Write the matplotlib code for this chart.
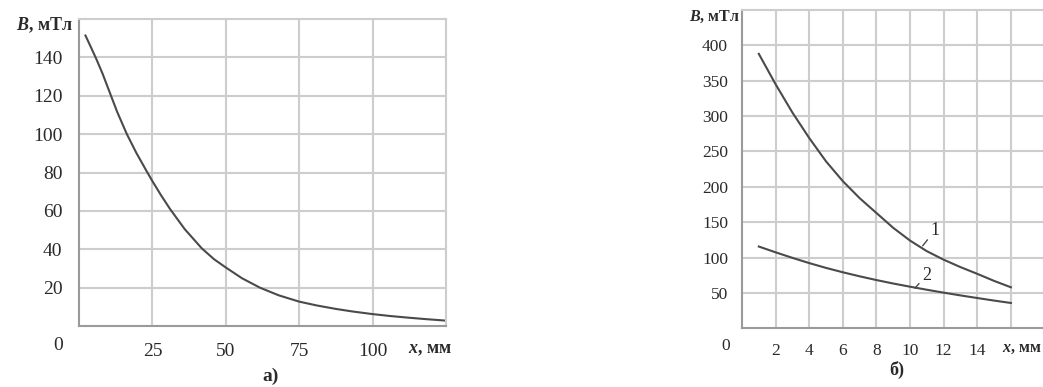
import matplotlib
matplotlib.use("Agg")
import matplotlib.pyplot as plt

plt.rcParams['font.family'] = ['Liberation Serif', 'DejaVu Serif']
plt.rcParams['mathtext.fontset'] = 'custom'
plt.rcParams['mathtext.bfit'] = 'Liberation Serif:italic:bold'
plt.rcParams['mathtext.it'] = 'Liberation Serif:italic'
plt.rcParams['mathtext.rm'] = 'Liberation Serif'

# ---- data: panel а) ----
xa = [2.2, 4, 6, 8, 10.6, 13, 16.3, 19.5, 23.1, 25, 28, 31, 36, 41.8, 46, 50,
      55.5, 61.6, 68, 75, 81, 87.5, 93, 100, 106, 112.5, 118, 125]
ya = [151.4, 145.5, 138.8, 131.6, 121.2, 111.6, 100, 90.3, 80.5, 75.5, 68, 61, 50.5, 40.5, 34.8, 30.5,
      24.9, 20, 16, 12.7, 10.7, 8.9, 7.6, 6.2, 5.2, 4.3, 3.6, 2.8]
xa_ticks = [25, 50, 75, 100]
ya_ticks = [20, 40, 60, 80, 100, 120, 140]

# ---- data: panel б) ----
x1 = [1, 2, 3, 4, 5, 6, 7, 8, 9, 10, 11, 12, 13, 14, 15, 16]
y1 = [388, 345, 305, 269, 236, 208, 184, 163, 142, 124, 109, 97, 86.5, 77, 67, 58]
x2 = [1, 2, 3, 4, 5, 6, 7, 8, 9, 10, 11, 12, 13, 14, 15, 16]
y2 = [115.6, 107.4, 99.6, 92.2, 85.4, 79.2, 73.5, 68.2, 63.3, 58.8, 54.5, 50.4, 46.5, 42.8, 39.2, 35.8]
xb_ticks = [2, 4, 6, 8, 10, 12, 14, 16]
xb_labels = ['2', '4', '6', '8', '10', '12', '14', '']
yb_ticks = [50, 100, 150, 200, 250, 300, 350, 400]

W, H = 1043, 387
fig = plt.figure(figsize=(W / 100, H / 100), dpi=100)

grid_c = '#cdcdcd'
spine_c = '#9a9a9a'
line_c = '#4a4a4a'
text_c = '#2a2a2a'


def style(ax, fs, xpad, ypad):
    ax.grid(True, color=grid_c, linewidth=1.5)
    ax.set_axisbelow(True)
    for s in ['top', 'right']:
        ax.spines[s].set_color(grid_c)
        ax.spines[s].set_linewidth(1.5)
    for s in ['left', 'bottom']:
        ax.spines[s].set_color(spine_c)
        ax.spines[s].set_linewidth(1.5)
    ax.tick_params(axis='both', length=0, labelsize=fs, labelcolor=text_c)
    ax.tick_params(axis='x', pad=xpad)
    ax.tick_params(axis='y', pad=ypad)


# Panel а)
ax1 = fig.add_axes([79 / W, 1 - 326 / H, (446 - 79) / W, (326 - 19) / H])
ax1.plot(xa, ya, color=line_c, linewidth=1.5, solid_joinstyle='round')
ax1.set_xlim(0, 125)
ax1.set_ylim(0, 160)
ax1.set_xticks(xa_ticks)
ax1.set_yticks(ya_ticks)
style(ax1, 14, 12, 12)

# Panel б)
ax2 = fig.add_axes([742 / W, 1 - 328.3 / H, (1044.5 - 742) / W, (328.3 - 10) / H])
ax2.plot(x1, y1, color=line_c, linewidth=1.5, solid_joinstyle='round')
ax2.plot(x2, y2, color=line_c, linewidth=1.5, solid_joinstyle='round')
ax2.set_xlim(0, 18)
ax2.set_ylim(0, 450)
ax2.set_xticks(xb_ticks)
ax2.set_xticklabels(xb_labels)
ax2.set_yticks(yb_ticks)
style(ax2, 12.5, 10.5, 10)

ax2.annotate('1', xy=(10.75, 116.6), xytext=(11.2, 126), fontsize=13, color=text_c,
             ha='left', va='bottom',
             arrowprops=dict(arrowstyle='-', color=line_c, linewidth=1, shrinkA=0, shrinkB=0))
ax2.annotate('2', xy=(10.29, 56.7), xytext=(10.7, 63), fontsize=13, color=text_c,
             ha='left', va='bottom',
             arrowprops=dict(arrowstyle='-', color=line_c, linewidth=1, shrinkA=0, shrinkB=0))

# Axis titles and extra labels
fig.text(73 / W, 1 - 25 / H, r'$\mathbfit{B}$, мТл', ha='right', va='center',
         fontsize=13, fontweight='bold', color=text_c)
fig.text(739.5 / W, 1 - 17 / H, r'$\mathbfit{B}$, мТл', ha='right', va='center',
         fontsize=11.5, fontweight='bold', color=text_c)
fig.text(408 / W, 1 - 350 / H, r'$\mathbfit{x}$, мм', ha='left', va='center',
         fontsize=13, fontweight='bold', color=text_c)
fig.text(1002 / W, 1 - 348.5 / H, r'$\mathbfit{x}$, мм', ha='left', va='center',
         fontsize=11.5, fontweight='bold', color=text_c)
fig.text(58 / W, 1 - 345 / H, '0', ha='center', va='center', fontsize=14, color=text_c)
fig.text(725.7 / W, 1 - 346.5 / H, '0', ha='center', va='center', fontsize=12.5, color=text_c)
fig.text(271 / W, 1 - 376 / H, 'а)', ha='center', va='center', fontsize=14,
         fontweight='bold', color=text_c)
fig.text(897 / W, 1 - 370 / H, 'б)', ha='center', va='center', fontsize=13,
         fontweight='bold', color=text_c)

fig.savefig('out.png', dpi=100)
